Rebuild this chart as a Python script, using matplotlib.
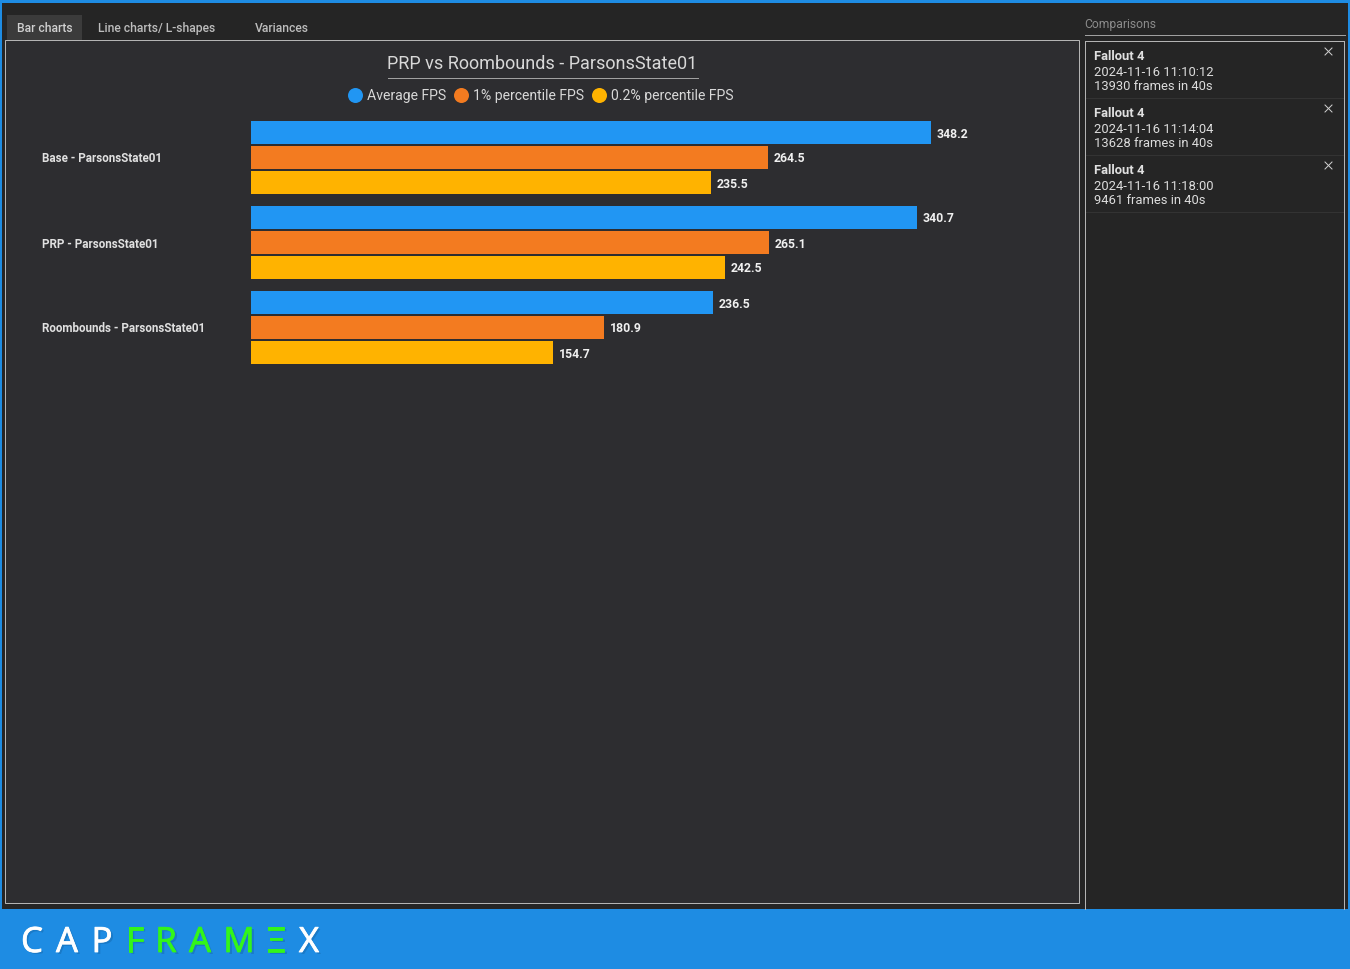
import matplotlib
matplotlib.use('Agg')
import matplotlib.pyplot as plt
import matplotlib.patheffects as pe
from matplotlib.patches import Rectangle, Circle

plt.rcParams['font.family'] = ['Roboto', 'DejaVu Sans']

# Данные
categories = ['Base - ParsonsState01', 'PRP - ParsonsState01', 'Roombounds - ParsonsState01']
avg_fps = [348.2, 340.7, 236.5]
p1_fps = [264.5, 265.1, 180.9]
p02_fps = [235.5, 242.5, 154.7]
series_names = ['Average FPS', '1% percentile FPS', '0.2% percentile FPS']
series_colors = ['#2196F3', '#F37B20', '#FFB300']
tabs = ['Bar charts', 'Line charts/ L-shapes', 'Variances']
tab_x = [17, 98, 255]
runs = [('Fallout 4', '2024-11-16 11:10:12', '13930 frames in 40s'),
        ('Fallout 4', '2024-11-16 11:14:04', '13628 frames in 40s'),
        ('Fallout 4', '2024-11-16 11:18:00', '9461 frames in 40s')]
logo_letters = ['C', 'A', 'P', 'F', 'R', 'A', 'M', 'Ξ', 'X']
logo_x = [32, 67, 102, 135, 166, 200, 239, 276, 309]
logo_colors = ['white', 'white', 'white', '#33F51A', '#33F51A', '#33F51A', '#33F51A', '#33F51A', 'white']

W, H = 1350, 969
fig = plt.figure(figsize=(W / 100, H / 100), dpi=100, facecolor='#252525')

# Подложка в пикселях
bg = fig.add_axes([0, 0, 1, 1])
bg.set_xlim(0, W)
bg.set_ylim(H, 0)
bg.axis('off')

BLUE = '#1E8CE3'
LINE = '#B4B4B4'
PX = 0.72  # один пиксель
bg.add_patch(Rectangle((0, 0), W, 3, color=BLUE, lw=0))
bg.add_patch(Rectangle((0, 0), 2, H, color=BLUE, lw=0))
bg.add_patch(Rectangle((1348, 0), 2, H, color=BLUE, lw=0))
bg.add_patch(Rectangle((0, 909), W, 60, color=BLUE, lw=0))

# Вкладки
bg.add_patch(Rectangle((7, 15), 75, 25, color='#3B3B3B', lw=0))
for name, x in zip(tabs, tab_x):
    bg.text(x, 28, name, color='#D0D0D0' if x == 17 else '#BDBDBD', fontsize=8.75,
            fontweight='medium', va='center', ha='left')

# Главная панель
bg.add_patch(Rectangle((4.6, 39.6), 1074, 863.2, facecolor='#2D2D30', edgecolor=LINE, lw=PX))

# Заголовок и легенда
bg.text(542, 64, 'PRP vs Roombounds - ParsonsState01', color='#D8D8D8', fontsize=13.0,
        ha='center', va='center')
bg.plot([388, 698], [77.5, 77.5], color='#A0A0A0', lw=PX)
legend_x = [348, 454, 592]
for name, color, x in zip(series_names, series_colors, legend_x):
    bg.add_patch(Circle((x + 7.5, 95.5), 7.5, color=color, lw=0))
    bg.text(x + 19, 95.5, name, color='#D8D8D8', fontsize=10.1, va='center', ha='left')

# Панель сравнений
bg.text(1084.5, 24, 'Comparisons', color='#8C8C8C', fontsize=8.7, va='center', ha='left')
bg.plot([1085, 1345], [34.6, 34.6], color='#A0A0A0', lw=PX)
bg.plot([1084.6, 1084.6], [41, 909], color=LINE, lw=PX)
bg.plot([1343.6, 1343.6], [41, 909], color=LINE, lw=PX)
bg.plot([1085, 1344], [40.6, 40.6], color=LINE, lw=PX)
for i, (game, date, frames) in enumerate(runs):
    y = 56 + i * 57
    bg.text(1094, y, game, color='#E0E0E0', fontsize=9.35, fontweight='bold', va='center', ha='left')
    bg.text(1094, y + 16, date, color='#DCDCDC', fontsize=9.35, va='center', ha='left')
    bg.text(1094, y + 30, frames, color='#DCDCDC', fontsize=9.35, va='center', ha='left')
    bg.plot([1325, 1332], [y - 8, y - 1], color='#D0D0D0', lw=PX)
    bg.plot([1325, 1332], [y - 1, y - 8], color='#D0D0D0', lw=PX)
    bg.plot([1086, 1343], [y + 41.6, y + 41.6], color='#333333', lw=PX)

# Логотип
for ch, x, color in zip(logo_letters, logo_x, logo_colors):
    bg.text(x + 2, 945, ch, color='#1565A8', alpha=0.45, fontsize=25, family=['Open Sans', 'DejaVu Sans'],
            ha='center', va='center')
    t = bg.text(x, 943, ch, color=color, fontsize=25, family=['Open Sans', 'DejaVu Sans'],
                ha='center', va='center')
    t.set_path_effects([pe.withStroke(linewidth=0.6, foreground=color)])

# График: 1.954 пикселя на единицу FPS
ax = fig.add_axes([251 / W, 1 - 370 / H, 800 / W, 255 / H])
ax.patch.set_alpha(0)
ax.set_xlim(0, 800 / 1.954)
ax.set_ylim(2.5, -0.5)
step = 25 / 85
h = 23 / 85
for k, (values, color) in enumerate(zip([avg_fps, p1_fps, p02_fps], series_colors)):
    ypos = [i + (k - 1) * step for i in range(len(categories))]
    ax.barh(ypos, values, height=h, color=color, linewidth=0)
    for y, v in zip(ypos, values):
        ax.annotate(f'{v:.1f}', (v, y), xytext=(5.5, -1.5), textcoords='offset pixels', color='#F0F0F0',
                    fontsize=8.8, fontweight='bold', va='center', ha='left')
ax.set_yticks(range(len(categories)))
ax.set_yticklabels(categories, color='#E0E0E0', fontsize=8.4, fontweight='bold', ha='left')
ax.tick_params(axis='y', length=0, pad=150.5)
ax.xaxis.set_visible(False)
for s in ax.spines.values():
    s.set_visible(False)

plt.savefig('out.png', dpi=100, facecolor=fig.get_facecolor())
